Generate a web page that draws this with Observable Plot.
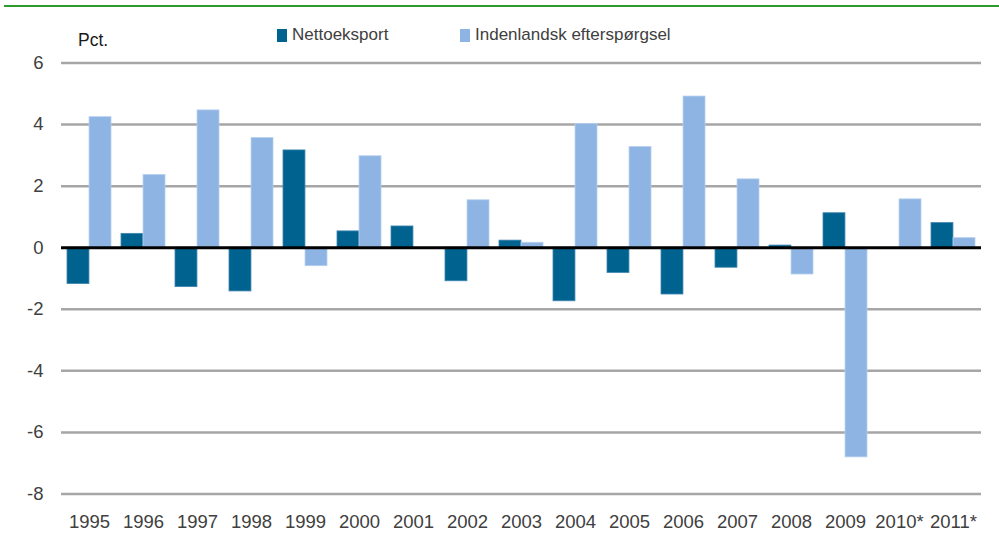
<!DOCTYPE html>
<html>
<head>
<meta charset="utf-8">
<script src="https://cdn.jsdelivr.net/npm/d3@7"></script>
<script src="https://cdn.jsdelivr.net/npm/@observablehq/plot@0.6"></script>
<style>
  html, body { margin: 0; padding: 0; background: #fff; }
  #wrap { position: relative; width: 999px; height: 533px; font-family: "Liberation Sans", Arial, sans-serif; color: #404040; }
  #topline { position: absolute; left: 4px; top: 5px; width: 995px; height: 2px; background: #2e9a2e; }
  #pct { position: absolute; left: 78px; top: 30px; font-size: 17.5px; color: #1a1a1a; }
  .leg { position: absolute; top: 25px; font-size: 17px; color: #404040; display: flex; align-items: center; }
  .sw { width: 10px; height: 13px; margin-right: 5px; display: inline-block; }
  #chart { position: absolute; left: 0; top: 0; }
</style>
</head>
<body>
<div id="wrap">
  <div id="chart"></div>
  <div id="topline"></div>
  <div id="pct">Pct.</div>
  <div id="legend"></div>
</div>
<script>
const years = ["1995","1996","1997","1998","1999","2000","2001","2002","2003","2004","2005","2006","2007","2008","2009","2010*","2011*"];
const seriesNames = ["Nettoeksport", "Indenlandsk efterspørgsel"];
const nettoeksport = [-1.18, 0.45, -1.28, -1.42, 3.16, 0.53, 0.69, -1.09, 0.23, -1.74, -0.82, -1.52, -0.65, 0.07, 1.12, 0.0, 0.80];
const indenlandsk = [4.24, 2.36, 4.46, 3.56, -0.60, 2.97, 0.0, 1.54, 0.16, 4.02, 3.27, 4.91, 2.22, -0.87, -6.81, 1.57, 0.31];
const yTicks = [-8, -6, -4, -2, 0, 2, 4, 6];
const colors = ["#00638f", "#8db4e2"];

const netData = years.map((yr, i) => ({year: yr, value: nettoeksport[i]}));
const indData = years.map((yr, i) => ({year: yr, value: indenlandsk[i]}));

// legend
const legend = document.getElementById("legend");
const legX = [277, 460];
seriesNames.forEach((s, i) => {
  const d = document.createElement("div");
  d.className = "leg";
  d.style.left = legX[i] + "px";
  d.innerHTML = `<span class="sw" style="background:${colors[i]}"></span>${s}`;
  legend.appendChild(d);
});

const half = 22.05;
const chart = Plot.plot({
  width: 999,
  height: 533,
  marginLeft: 61,
  marginRight: 18,
  marginTop: 62.5,
  marginBottom: 39.5,
  style: {fontFamily: '"Liberation Sans", Arial, sans-serif', fontSize: "18.5px", color: "#404040", background: "transparent"},
  x: {domain: years, paddingInner: 0.185, paddingOuter: 0.0925, label: null, axis: null},
  y: {domain: [-8, 6], ticks: yTicks, label: null, axis: null},
  marks: [
    Plot.ruleY(yTicks.filter(t => t !== 0), {stroke: "#a6a6a6", strokeWidth: 2.5}),
    Plot.barY(netData, {x: "year", y: "value", fill: colors[0], stroke: "#3f86b0", strokeWidth: 0.8, insetRight: half}),
    Plot.barY(indData, {x: "year", y: "value", fill: colors[1], stroke: "#b5cfee", strokeWidth: 0.8, insetLeft: half}),
    Plot.ruleY([0], {stroke: "#000", strokeWidth: 3}),
    Plot.axisY(yTicks, {tickSize: 0, tickPadding: 18, fontSize: 18.5, fill: "#404040", tickFormat: d => d < 0 ? "-" + Math.abs(d) : String(d)}),
    Plot.axisX({anchor: "bottom", tickSize: 0, tickPadding: 21, fontSize: 18.5, fill: "#404040", label: null})
  ]
});
document.getElementById("chart").appendChild(chart);
</script>
</body>
</html>
